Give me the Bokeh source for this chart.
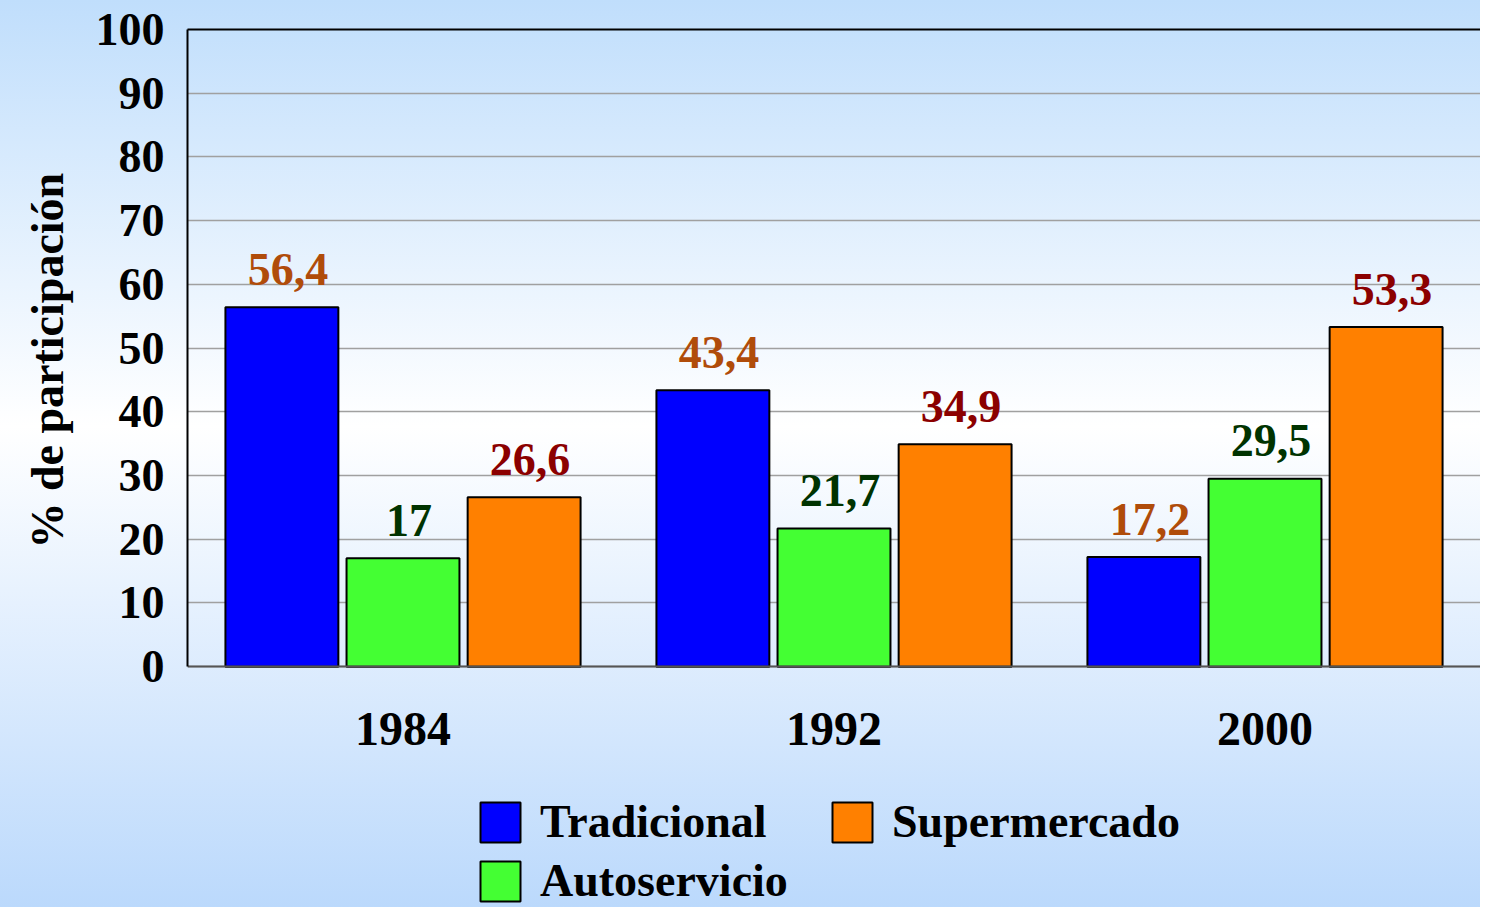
from bokeh.plotting import figure
from bokeh.models import ColumnDataSource, Legend, LegendItem, FactorRange, CategoricalAxis, Title
from bokeh.transform import dodge
from bokeh.core.properties import value
from bokeh.embed import file_html
from bokeh.resources import INLINE

years = ["1984", "1992", "2000"]
tradicional = [56.4, 43.4, 17.2]
autoservicio = [17.0, 21.7, 29.5]
supermercado = [26.6, 34.9, 53.3]
y_ticks = [0, 10, 20, 30, 40, 50, 60, 70, 80, 90, 100]

def fmt(v):
    return f"{v:g}".replace(".", ",")

src = ColumnDataSource(dict(
    year=years,
    trad=tradicional, auto=autoservicio, sup=supermercado,
    trad_lbl=[fmt(v) for v in tradicional],
    auto_lbl=[fmt(v) for v in autoservicio],
    sup_lbl=[fmt(v) for v in supermercado],
))

FONT = "Liberation Serif"

p = figure(
    x_range=FactorRange(*years), y_range=(-37.8, 100),
    width=1480, height=907, output_backend="svg", toolbar_location=None,
    min_border_left=187, min_border_top=29, min_border_bottom=0, min_border_right=0,
)
p.styles = {"background": "linear-gradient(to bottom, #C0DEFC 0%, #FFFFFF 47%, #BBD9FC 100%)"}
p.border_fill_alpha = 0
p.background_fill_alpha = 0
p.outline_line_color = None

off = 0.281
w = 0.262
series = [
    ("trad", "trad_lbl", -off, "#0000FF", "#B04C0A", "Tradicional"),
    ("auto", "auto_lbl", 0.0, "#44FF33", "#003300", "Autoservicio"),
    ("sup", "sup_lbl", off, "#FF8000", "#8B0000", "Supermercado"),
]
renderers = {}
for col, lbl, o, color, tcolor, name in series:
    r = p.vbar(x=dodge("year", o, range=p.x_range), top=col, width=w, source=src,
               fill_color=color, line_color="black", line_width=2)
    renderers[name] = r
    p.text(x=dodge("year", o, range=p.x_range), y=col, text=lbl, source=src,
           text_align="center", text_baseline="alphabetic",
           x_offset=6, y_offset=-38,
           text_font=value(FONT), text_font_style="bold",
           text_font_size="46px", text_color=tcolor)

# y axis
p.yaxis.ticker = y_ticks
p.yaxis.bounds = (0, 100)
p.yaxis.major_label_text_font = FONT
p.yaxis.major_label_text_font_style = "bold"
p.yaxis.major_label_text_font_size = "46px"
p.yaxis.major_label_text_color = "black"
p.yaxis.major_label_standoff = 17
p.yaxis.major_tick_line_color = None
p.yaxis.minor_tick_line_color = None
p.yaxis.axis_line_color = "black"
p.yaxis.axis_line_width = 2

# y axis title (placed alongside the 0-100 part of the axis)
ytitle = Title(
    text="% de participación", align="left", offset=359, standoff=39,
    text_font=FONT, text_font_style="bold", text_font_size="46px",
    text_color="black",
)
p.add_layout(ytitle, "left")

# x axis placed at value 0
p.xaxis.fixed_location = 0
p.xaxis.major_label_text_font = FONT
p.xaxis.major_label_text_font_style = "bold"
p.xaxis.major_label_text_font_size = "48px"
p.xaxis.major_label_text_color = "black"
p.xaxis.major_label_standoff = 40
p.xaxis.major_tick_line_color = None
p.xaxis.minor_tick_line_color = None
p.xaxis.axis_line_color = "#555555"
p.xaxis.axis_line_width = 2

# top frame line
top_axis = CategoricalAxis(
    axis_line_color="black", axis_line_width=2,
    major_tick_line_color=None, minor_tick_line_color=None,
    major_label_text_color=None, major_label_standoff=0,
    major_label_text_font_size="1px",
)
p.add_layout(top_axis, "above")

p.xgrid.grid_line_color = None
p.ygrid.grid_line_color = "#A0A0A0"
p.ygrid.grid_line_width = 1.5

legend = Legend(
    items=[
        LegendItem(label="Tradicional", renderers=[renderers["Tradicional"]]),
        LegendItem(label="Autoservicio", renderers=[renderers["Autoservicio"]]),
        LegendItem(label="Supermercado", renderers=[renderers["Supermercado"]]),
    ],
    orientation="vertical", nrows=2,
    location=(288, 0),
    background_fill_alpha=0, border_line_color=None,
    padding=0, margin=0, spacing=6,
    glyph_width=50, glyph_height=50, label_standoff=15, label_width=281,
    label_text_font=FONT, label_text_font_style="bold",
    label_text_font_size="46px", label_text_color="black",
)
p.add_layout(legend, "center")

open("out.html", "w").write(file_html(p, INLINE))
